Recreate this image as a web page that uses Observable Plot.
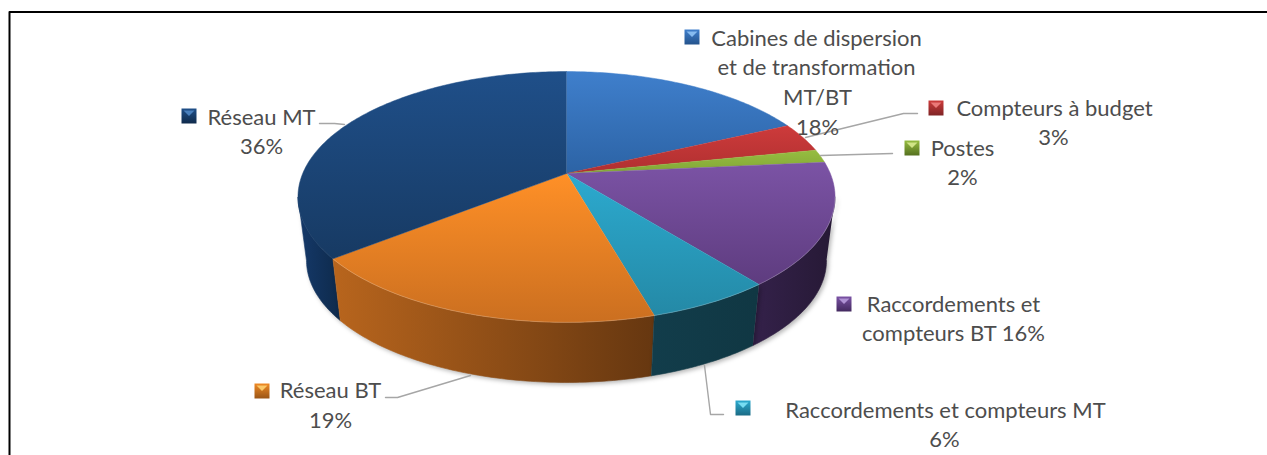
<!DOCTYPE html>
<html><head><meta charset="utf-8">
<script src="https://cdn.jsdelivr.net/npm/d3@7"></script>
<script src="https://cdn.jsdelivr.net/npm/@observablehq/plot@0.6"></script>
<style>html,body{margin:0;padding:0;background:#fff}svg{display:block}</style>
</head><body><div id="chart"></div>
<script>
// DATA
const categories = ["Cabines de dispersion et de transformation MT/BT","Compteurs à budget","Postes","Raccordements et compteurs BT","Raccordements et compteurs MT","Réseau BT","Réseau MT"];
const shares = [18.0, 3.8, 1.7, 15.8, 6.3, 18.7, 35.7];   // slice sizes
const printed = [18, 3, 2, 16, 6, 19, 36];                 // percentages as printed on the labels
const labelRows = [
  ["Cabines de dispersion","et de transformation","MT/BT",printed[0]+"%"],
  ["Compteurs à budget",printed[1]+"%"],
  ["Postes",printed[2]+"%"],
  ["Raccordements et","compteurs BT "+printed[3]+"%"],
  ["Raccordements et compteurs MT",printed[4]+"%"],
  ["Réseau BT",printed[5]+"%"],
  ["Réseau MT",printed[6]+"%"]
];
// STYLE & LAYOUT
const topColors  = [["#3f7fcc","#2c63a5"],["#cd3b3b","#b02f30"],["#96bd40","#82a637"],["#7b53a5","#5e3c7f"],["#2caacf","#2489a6"],["#ff9027","#cb6f20"],["#1f4f89","#173a63"]];
const sideColors = [["#1f4570","#1f4570"],["#7a1f20","#7a1f20"],["#5a7322","#5a7322"],["#34214a","#261935"],["#123d4b","#103743"],["#b8651d","#663710"],["#15396a","#0e2a4b"]];
const keyColors  = [["#3f7fcc","#24538c"],["#cd3b3b","#7f2425"],["#96bd40","#55701f"],["#7b53a5","#43295f"],["#2caacf","#1b6b85"],["#f08a25","#9a5516"],["#1f4f89","#0f2a4b"]];
const keyTips    = ["#8fc3f5","#ee7f7f","#d8ea8f","#b79adb","#7fe3f7","#ffd070","#4f86c4"];
const labelX = [[816,816,817,817],[1054,1053],[962,962],[953,953],[945,944],[330,330],[261,261]];
const labelY = [[38,67,97,127],[108,137],[148,177],[304,333],[410,439],[390,420],[117,146]];
const keyX = [684,928,904,836,735,254,181];
const keyY = [29,100,140,296,400,383,108];
const keySize = 15;
const leaders = [
  [[917,113],[903,113],[805,137]],
  [[892,153],[820,155]],
  [[723,414],[710,414],[704,365]],
  [[385,397],[397,397],[470,375]],
  [[319,123],[334,123],[344,124]]
];
const frame = [[1267,11.5],[9,11.5],[9,455]];
const FONT = "Lato";
const FONTSIZE = 22;

// pie disc in perspective
const cx = 566, persp = 0.187;
const topDisc = {ay:173, k:263.8, d:121};
const botDisc = {ay:237.2, k:255.4, d:117.7};
const wallFrom = 28, wallTo = 72;   // the wall is visible only between the disc's side extremes
function project(disc, pct){
  const a = pct/100*2*Math.PI, sx = Math.sin(a), sy = Math.cos(a), w = 1+persp*sy;
  return [cx + disc.k*sx/w, disc.ay - disc.d*sy/w];
}
function arc(disc, from, to){
  const n = Math.max(2, Math.ceil((to-from)/0.25)), out = [];
  for (let i=0;i<=n;i++) out.push(project(disc, from+(to-from)*i/n));
  return out;
}
const cum = d3.cumsum(shares);
const starts = shares.map((_, i) => i ? cum[i-1] : 0);

function defs(){
  const d = d3.create("svg:defs");
  const grad = (id, cols, horiz) => {
    const g = d.append("linearGradient").attr("id", id).attr("x1",0).attr("y1",0).attr("x2",horiz?1:0).attr("y2",horiz?0:1);
    g.append("stop").attr("offset","0%").attr("stop-color",cols[0]);
    g.append("stop").attr("offset","100%").attr("stop-color",cols[1]);
  };
  topColors.forEach((c,i)=>grad("top"+i,c,false));
  sideColors.forEach((c,i)=>grad("side"+i,c,true));
  keyColors.forEach((c,i)=>grad("key"+i,c,false));
  return d.node();
}
const xy = {x:d=>d[0], y:d=>d[1]};
const marks = [defs];

// walls
[6,3,5,4].forEach(i=>{
  const a = Math.max(starts[i],wallFrom), b = Math.min(cum[i],wallTo);
  const poly = [...arc(topDisc,a,b), ...arc(botDisc,a,b).reverse()];
  marks.push(Plot.line(poly,{...xy, fill:`url(#side${i})`, stroke:`url(#side${i})`, strokeWidth:0.6, imageFilter:"drop-shadow(2px 2px 2px rgba(0,0,0,.28))"}));
});
// top faces
shares.forEach((_,i)=>{
  const poly = [project(topDisc,0).map((v,j)=>j?topDisc.ay:cx), ...arc(topDisc,starts[i],cum[i])];
  marks.push(Plot.line(poly,{...xy, fill:`url(#top${i})`, stroke:`url(#top${i})`, strokeWidth:0.5}));
});
// light rim on the front of the disc
[3,4,5].forEach(i=>{
  marks.push(Plot.line(arc(topDisc,Math.max(starts[i],wallFrom),Math.min(cum[i],wallTo)),{...xy, stroke:"#fff", strokeOpacity:0.2, strokeWidth:1}));
});
// leaders and frame
leaders.forEach(l=>marks.push(Plot.line(l,{...xy, stroke:"#a6a6a6", strokeWidth:1.4})));
marks.push(Plot.line(frame,{...xy, stroke:"#000", strokeWidth:2}));

// legend keys
keyX.forEach((kx,i)=>{
  const ky = keyY[i], s = keySize;
  marks.push(Plot.line([[kx,ky],[kx+s,ky],[kx+s,ky+s],[kx,ky+s]],{...xy, fill:`url(#key${i})`, stroke:"none"}));
  marks.push(Plot.line([[kx+2,ky+2],[kx+s-2,ky+2],[kx+s/2,ky+s/2]],{...xy, fill:keyTips[i], stroke:"none", fillOpacity:0.9}));
});
// labels
const labels = labelRows.flatMap((rows,i)=>rows.map((t,j)=>({t, x:labelX[i][j], y:labelY[i][j]})));
marks.push(Plot.text(labels,{x:"x", y:"y", text:"t", fontFamily:FONT, fontSize:FONTSIZE, fill:"#4d4d4d", textAnchor:"middle", lineAnchor:"middle"}));

const chart = Plot.plot({
  width:1267, height:455, margin:0,
  x:{domain:[0,1267], range:[0,1267], axis:null},
  y:{domain:[0,455], range:[0,455], axis:null},
  style:{background:"#fff", overflow:"hidden"},
  marks
});
document.getElementById("chart").append(chart);
</script></body></html>
